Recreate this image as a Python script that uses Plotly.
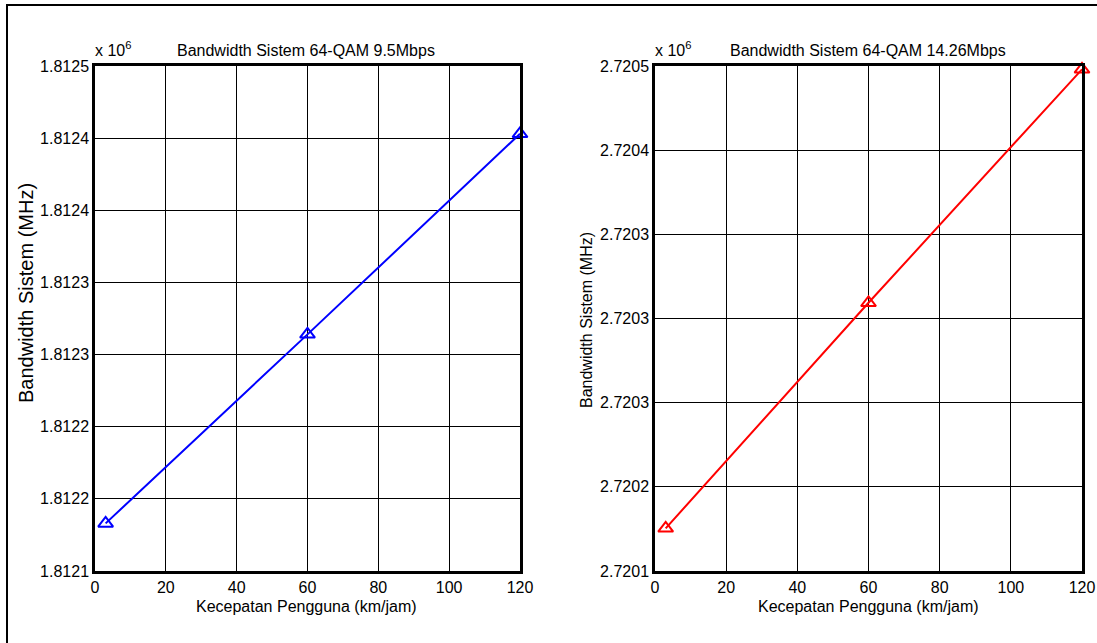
import plotly.graph_objects as go

# ---- data ----
speed_kmh = [3, 60, 120]
bw_left = [1812133, 1812264, 1812403]      # 64-QAM 9.5 Mbps
bw_right = [2720138, 2720339, 2720547]     # 64-QAM 14.26 Mbps

x_tick_vals = [0, 20, 40, 60, 80, 100, 120]
left_tick_vals = [1812100, 1812150, 1812200, 1812250, 1812300, 1812350, 1812400, 1812450]
left_tick_text = ["1.8121", "1.8122", "1.8122", "1.8123", "1.8123", "1.8124", "1.8124", "1.8125"]
right_tick_vals = [2720100, 2720175, 2720250, 2720325, 2720400, 2720475, 2720550]
right_tick_text = ["2.7201", "2.7202", "2.7203", "2.7203", "2.7203", "2.7204", "2.7205"]

title_left = "Bandwidth Sistem 64-QAM 9.5Mbps"
title_right = "Bandwidth Sistem 64-QAM 14.26Mbps"
xlabel = "Kecepatan Pengguna (km/jam)"
ylabel = "Bandwidth Sistem (MHz)"
exp_label = "x 10<sup>6</sup>"

W, H = 1097, 643
FONT = "Liberation Sans, Arial, sans-serif"


def px(x):
    return x / W


def py(y):
    return 1 - y / H


fig = go.Figure()
fig.add_trace(go.Scatter(
    x=speed_kmh, y=bw_left, mode="lines+markers", xaxis="x", yaxis="y",
    line=dict(color="#0000ff", width=2),
    marker=dict(symbol="triangle-up-open", size=13, color="#0000ff", line=dict(width=2, color="#0000ff")),
    cliponaxis=False, showlegend=False))
fig.add_trace(go.Scatter(
    x=speed_kmh, y=bw_right, mode="lines+markers", xaxis="x2", yaxis="y2",
    line=dict(color="#ff0000", width=2),
    marker=dict(symbol="triangle-up-open", size=13, color="#ff0000", line=dict(width=2, color="#ff0000")),
    cliponaxis=False, showlegend=False))

axis_common = dict(
    showgrid=True, gridcolor="black", gridwidth=1.3, zeroline=False, automargin=False,
    showline=True, linecolor="black", linewidth=2.5, mirror=True,
    ticks="", tickfont=dict(family=FONT, size=16, color="black"),
)

fig.update_layout(
    template="none",
    width=W, height=H,
    margin=dict(l=0, r=0, t=0, b=0, pad=0, autoexpand=False),
    paper_bgcolor="white", plot_bgcolor="white",
    font=dict(family=FONT, size=16, color="black"),
    xaxis=dict(domain=[px(95), px(520)], range=[0, 120], tickvals=x_tick_vals, anchor="y", **axis_common),
    yaxis=dict(domain=[py(571), py(66)], range=[left_tick_vals[0], left_tick_vals[-1]],
               tickvals=left_tick_vals, ticktext=left_tick_text, anchor="x", **axis_common),
    xaxis2=dict(domain=[px(655), px(1082)], range=[0, 120], tickvals=x_tick_vals, anchor="y2", **axis_common),
    yaxis2=dict(domain=[py(571), py(66)], range=[right_tick_vals[0], right_tick_vals[-1]],
                tickvals=right_tick_vals, ticktext=right_tick_text, anchor="x2", **axis_common),
)

ann = []
afont = dict(family=FONT, size=16, color="black")
ann.append(dict(text=title_left, x=px(306), y=py(50), xref="paper", yref="paper",
                showarrow=False, font=afont, xanchor="center", yanchor="middle"))
ann.append(dict(text=title_right, x=px(868), y=py(50), xref="paper", yref="paper",
                showarrow=False, font=afont, xanchor="center", yanchor="middle"))
ann.append(dict(text=exp_label, x=px(93), y=py(49), xref="paper", yref="paper",
                showarrow=False, font=dict(family=FONT, size=16, color="black"), xanchor="left", yanchor="middle"))
ann.append(dict(text=exp_label, x=px(653), y=py(49), xref="paper", yref="paper",
                showarrow=False, font=dict(family=FONT, size=16, color="black"), xanchor="left", yanchor="middle"))
ann.append(dict(text=xlabel, x=px(306), y=py(606), xref="paper", yref="paper",
                showarrow=False, font=afont, xanchor="center", yanchor="middle"))
ann.append(dict(text=xlabel, x=px(868), y=py(606), xref="paper", yref="paper",
                showarrow=False, font=afont, xanchor="center", yanchor="middle"))
ann.append(dict(text=ylabel, x=px(26), y=py(293), xref="paper", yref="paper", textangle=-90,
                showarrow=False, font=dict(family=FONT, size=20, color="black"),
                xanchor="center", yanchor="middle"))
ann.append(dict(text=ylabel, x=px(586), y=py(320), xref="paper", yref="paper", textangle=-90,
                showarrow=False, font=afont, xanchor="center", yanchor="middle"))
fig.update_layout(annotations=ann)

# outer frame (cropped at right and bottom in the reference)
fig.add_shape(type="rect", xref="paper", yref="paper",
              x0=px(7), x1=1.02, y0=-0.02, y1=py(5),
              line=dict(color="black", width=2), fillcolor="rgba(0,0,0,0)", layer="above")

post = (
    "document.documentElement.style.margin='0';document.documentElement.style.overflow='hidden';"
    "document.body.style.margin='0';document.body.style.overflow='hidden';"
    "var gd=document.getElementById('{plot_id}');gd.style.position='fixed';gd.style.left='0px';gd.style.top='0px';"
)
fig.write_html("out.html", config={"displayModeBar": False}, post_script=post)
